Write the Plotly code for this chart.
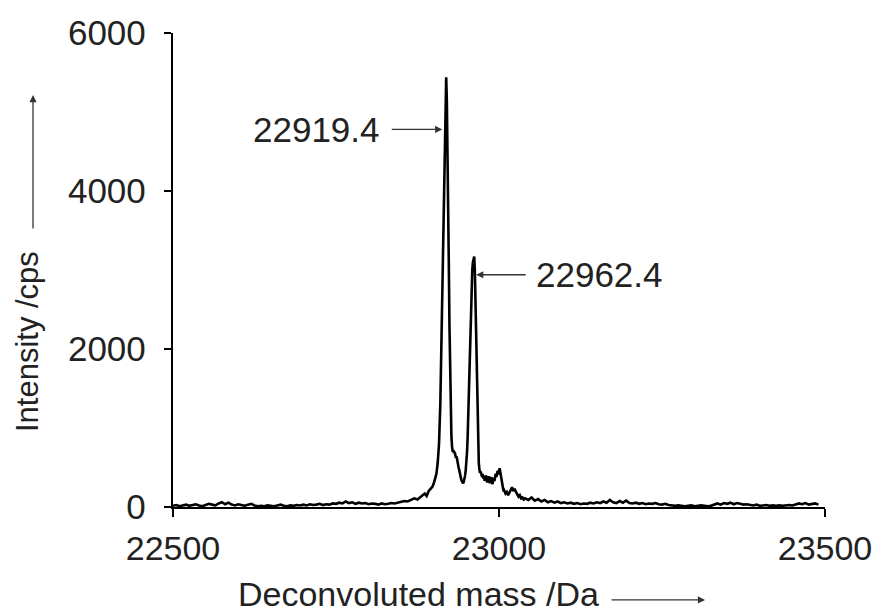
import plotly.graph_objects as go

# ---- data ----
baseline_lo_mass = list(range(22500, 22881, 5))
baseline_lo_int = [15, 25, 10, 20, 30, 15, 25, 35, 20, 10,
                   25, 40, 30, 20, 45, 60, 35, 55, 30, 20,
                   35, 25, 15, 30, 40, 20, 10, 15, 10, 20,
                   15, 10, 20, 30, 15, 10, 20, 15, 25, 20,
                   30, 20, 35, 25, 30, 40, 25, 35, 30, 45,
                   40, 55, 45, 70, 50, 60, 40, 55, 45, 50,
                   35, 45, 40, 30, 45, 35, 40, 50, 45, 55,
                   60, 75, 70, 90, 110, 95, 130]

peak_mass = [22883, 22886, 22889, 22892, 22895, 22898, 22900, 22902, 22904, 22906,
             22908, 22910, 22912, 22914, 22916, 22917, 22918, 22919, 22920, 22921,
             22922, 22923, 22924, 22925, 22926, 22927, 22928, 22929, 22930, 22931,
             22932, 22933, 22934, 22935, 22936, 22937, 22938, 22939, 22940, 22941,
             22942, 22943, 22944, 22945, 22946, 22947, 22948, 22949, 22950, 22951,
             22952, 22953, 22954, 22955, 22956, 22957, 22958, 22959, 22960, 22961,
             22962, 22963, 22964, 22965, 22966, 22967, 22968, 22969, 22970, 22971,
             22972, 22973, 22974, 22975, 22976, 22977, 22978, 22979, 22980, 22981,
             22982, 22983, 22984, 22985, 22986, 22987, 22988, 22989, 22990, 22991,
             22992, 22993, 22994, 22995, 22996, 22997, 22998, 22999, 23000, 23001,
             23002, 23003, 23004, 23005, 23006, 23007, 23008, 23010, 23012, 23014,
             23016, 23018, 23020, 23022, 23024, 23026, 23028, 23030, 23032, 23034,
             23036, 23038, 23040]
peak_int = [150, 170, 140, 200, 230, 260, 300, 350, 420, 560,
            800, 1300, 2200, 3300, 4400, 4950, 5300, 5440, 5150, 4600,
            3900, 3100, 2300, 1600, 1150, 900, 760, 700, 720, 680,
            700, 650, 620, 640, 580, 540, 500, 470, 420, 390,
            350, 330, 310, 300, 320, 350, 400, 470, 560, 700,
            900, 1200, 1600, 2000, 2400, 2700, 2900, 3000, 3100, 3140,
            3170, 2980, 2600, 2100, 1600, 1100, 750, 560, 470, 430,
            450, 400, 380, 420, 360, 390, 330, 370, 400, 350,
            310, 360, 390, 340, 300, 350, 380, 320, 290, 330,
            370, 330, 380, 420, 380, 430, 460, 410, 470, 490,
            440, 400, 340, 280, 240, 200, 210, 170, 190, 150,
            180, 210, 250, 200, 230, 190, 150, 130, 150, 110,
            120, 95, 110]

baseline_hi_mass = list(range(23045, 23491, 5))
baseline_hi_int = [90, 120, 80, 100, 70, 90, 60, 75, 55, 70,
                   50, 60, 45, 55, 40, 50, 35, 45, 40, 55,
                   45, 60, 50, 70, 55, 90, 60, 50, 75, 55,
                   80, 50, 45, 55, 40, 50, 35, 45, 40, 50,
                   35, 30, 40, 25, 20, 15, 20, 15, 10, 15,
                   20, 10, 15, 20, 15, 10, 15, 35, 45, 30,
                   50, 40, 55, 35, 50, 40, 30, 35, 25, 20,
                   30, 15, 20, 25, 15, 20, 15, 20, 15, 20,
                   25, 20, 30, 45, 35, 50, 30, 40, 45, 30]

mass = baseline_lo_mass + peak_mass + baseline_hi_mass
intensity = baseline_lo_int + peak_int + baseline_hi_int

x_ticks = [22500, 23000, 23500]
y_ticks = [0, 2000, 4000, 6000]

peak1_label = "22919.4"
peak1_arrow_xy = (22913, 4780)
peak2_label = "22962.4"
peak2_arrow_xy = (22965, 2940)

FONT = "Liberation Sans, Arial, sans-serif"
TXT = "#222222"

fig = go.Figure()
fig.add_trace(go.Scatter(x=mass, y=intensity, mode="lines",
                         line=dict(color="black", width=2.6),
                         hoverinfo="skip", showlegend=False))

ann = []
ann.append(dict(x=peak1_arrow_xy[0], y=peak1_arrow_xy[1], xref="x", yref="y",
                ax=-52, ay=0, text="", showarrow=True, arrowhead=2,
                arrowsize=1.1, arrowwidth=1.3, arrowcolor="#333333"))
ann.append(dict(x=peak1_arrow_xy[0], y=peak1_arrow_xy[1], xref="x", yref="y",
                text=peak1_label, showarrow=False, xanchor="right",
                yanchor="middle", xshift=-60,
                font=dict(family=FONT, size=35, color=TXT)))
ann.append(dict(x=peak2_arrow_xy[0], y=peak2_arrow_xy[1], xref="x", yref="y",
                ax=51, ay=0, text="", showarrow=True, arrowhead=2,
                arrowsize=1.1, arrowwidth=1.3, arrowcolor="#333333"))
ann.append(dict(x=peak2_arrow_xy[0], y=peak2_arrow_xy[1], xref="x", yref="y",
                text=peak2_label, showarrow=False, xanchor="left",
                yanchor="middle", xshift=58,
                font=dict(family=FONT, size=35, color=TXT)))
ann.append(dict(x=0.377, y=-0.184, xref="paper", yref="paper",
                text="Deconvoluted mass /Da", showarrow=False,
                xanchor="center", yanchor="middle",
                font=dict(family=FONT, size=34, color=TXT)))
ann.append(dict(x=0.816, y=-0.196, xref="paper", yref="paper",
                ax=-95, ay=0, text="", showarrow=True, arrowhead=2,
                arrowsize=1.1, arrowwidth=1.3, arrowcolor="#333333"))
ann.append(dict(x=-0.224, y=0.35, xref="paper", yref="paper",
                text="Intensity /cps", showarrow=False, textangle=-90,
                xanchor="center", yanchor="middle",
                font=dict(family=FONT, size=31, color=TXT)))
ann.append(dict(x=-0.2147, y=0.869, xref="paper", yref="paper",
                ax=0, ay=135, text="", showarrow=True, arrowhead=2,
                arrowsize=1.1, arrowwidth=1.3, arrowcolor="#333333"))

fig.update_layout(
    width=872, height=613,
    margin=dict(l=173, r=47, t=33, b=106, pad=0, autoexpand=False),
    paper_bgcolor="white", plot_bgcolor="white",
    annotations=ann,
    xaxis=dict(range=[22500, 23500], tickvals=x_ticks,
               ticktext=[str(v) for v in x_ticks],
               showline=True, linecolor="black", linewidth=2.4,
               ticks="outside", ticklen=8, tickwidth=2.4, tickcolor="black",
               showgrid=False, zeroline=False, ticklabelstandoff=2,
               ticklabeloverflow="allow", automargin=False,
               tickfont=dict(family=FONT, size=34, color=TXT)),
    yaxis=dict(range=[0, 6000], tickvals=y_ticks,
               ticktext=[str(v) for v in y_ticks],
               showline=True, linecolor="black", linewidth=2.4,
               ticks="outside", ticklen=7, tickwidth=2.4, tickcolor="black",
               showgrid=False, zeroline=False, ticklabelstandoff=11,
               automargin=False,
               tickfont=dict(family=FONT, size=35, color=TXT)),
)

fig.write_html("out.html",
               config={"displayModeBar": False},
               post_script="document.body.style.margin='0';"
                           "document.body.style.overflow='hidden';")
